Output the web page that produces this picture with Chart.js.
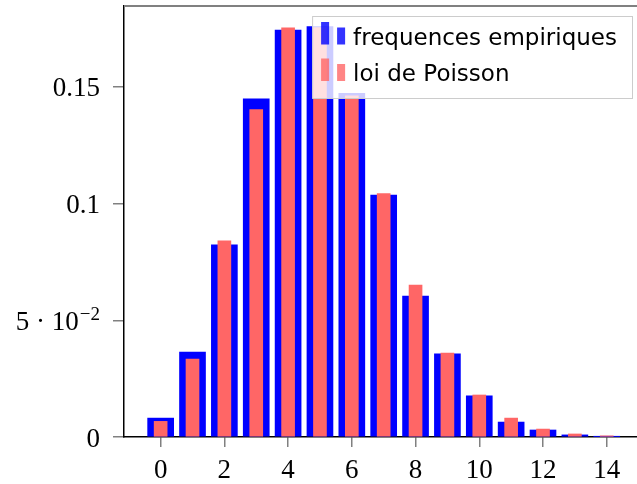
<!DOCTYPE html>
<html>
<head>
<meta charset="utf-8">
<script src="https://cdn.jsdelivr.net/npm/chart.js@4/dist/chart.umd.min.js"></script>
<style>
  html, body { margin: 0; padding: 0; background: #fff; }
  #wrap { width: 637px; height: 484px; }
</style>
</head>
<body>
<div id="wrap"><canvas id="poisson"></canvas></div>
<script>
// valeurs observees k = 0..14
var values = [0, 1, 2, 3, 4, 5, 6, 7, 8, 9, 10, 11, 12, 13, 14]
var empirical = [0.0081, 0.0364, 0.0823, 0.1449, 0.1744, 0.1759, 0.1473, 0.1037, 0.0604, 0.0356, 0.0176, 0.0064, 0.0030, 0.0009, 0.0002]
var poisson = [0.0067, 0.0334, 0.0841, 0.1403, 0.1753, 0.1755, 0.1462, 0.1043, 0.0651, 0.0360, 0.0180, 0.0081, 0.0034, 0.0013, 0.0005]
var xTicks = [0, 2, 4, 6, 8, 10, 12, 14]
var yTicks = [0, 0.05, 0.1, 0.15]
// [mantisse, exposant]
var yTickLabels = [['0', ''], ['5 · 10', '−2'], ['0.1', ''], ['0.15', '']]

var serif = 'Liberation Serif'
var tickFont = { family: serif, size: 27 }

function points(ys) {
	var p = []
	for (var i = 0; i < values.length; i++) {
		p.push({ x: values[i], y: ys[i] })
	}
	return p
}

function fixTicks(list) {
	return function(scale) {
		scale.ticks = list.map(function(v) { return { value: v } })
	}
}

function fixSize(w, h) {
	return function(scale) {
		if (w !== null) scale.width = w
		if (h !== null) scale.height = h
		scale.paddingLeft = scale.paddingRight = scale.paddingTop = scale.paddingBottom = 0
	}
}

// cadre du haut
var frame = {
	id: 'frame',
	afterDraw: function(chart) {
		var a = chart.chartArea, ctx = chart.ctx
		ctx.save()
		ctx.strokeStyle = '#808080'
		ctx.lineWidth = 2
		ctx.beginPath()
		ctx.moveTo(a.left, a.top)
		ctx.lineTo(a.right, a.top)
		ctx.stroke()
		ctx.restore()
	}
}

// etiquettes de l'axe y, avec exposant en position haute
var yLabels = {
	id: 'yLabels',
	afterDraw: function(chart) {
		var s = chart.scales.y, ctx = chart.ctx
		var right = s.right - 24
		ctx.save()
		ctx.fillStyle = '#000'
		ctx.textBaseline = 'alphabetic'
		ctx.textAlign = 'right'
		yTicks.forEach(function(v, i) {
			var base = s.getPixelForValue(v) + 9.5
			var lab = yTickLabels[i]
			var x = right
			if (lab[1]) {
				ctx.font = '19px "' + serif + '"'
				ctx.fillText(lab[1], x, base - 10)
				x -= ctx.measureText(lab[1]).width + 1
			}
			ctx.font = '27px "' + serif + '"'
			ctx.fillText(lab[0], x, base)
		})
		ctx.restore()
	}
}

// legende style pgfplots : fond blanc translucide, deux petites barres par entree
var legendBox = {
	id: 'legendBox',
	afterDraw: function(chart) {
		var a = chart.chartArea, ctx = chart.ctx
		var sets = chart.data.datasets
		ctx.save()
		ctx.font = '23px "DejaVu Sans"'
		var tw = 0
		sets.forEach(function(d) { tw = Math.max(tw, ctx.measureText(d.label).width) })
		var w = 41 + tw + 15, h = 82
		var x = a.right - 5 - w, y = a.top + 10
		ctx.fillStyle = 'rgba(255,255,255,0.8)'
		ctx.fillRect(x, y, w, h)
		ctx.strokeStyle = '#cccccc'
		ctx.lineWidth = 1
		ctx.strokeRect(x + 0.5, y + 0.5, w, h)
		sets.forEach(function(d, i) {
			var base = y + 28.5 + i * 36.5
			ctx.globalAlpha = 0.8
			ctx.fillStyle = d.backgroundColor
			ctx.fillRect(x + 9, base - 22.5, 8, 22.5)
			ctx.fillRect(x + 25, base - 17, 8, 17)
			ctx.globalAlpha = 1
			ctx.fillStyle = '#000'
			ctx.textBaseline = 'alphabetic'
			ctx.fillText(d.label, x + 41, base)
		})
		ctx.restore()
	}
}

var ctx = document.getElementById('poisson').getContext('2d')
var chart = new Chart(ctx, {
	type: 'bar',
	data: {
		datasets: [{
			label: 'frequences empiriques',
			data: points(empirical),
			backgroundColor: '#0000ff',
			barThickness: 26,
			grouped: false,
			order: 1
		}, {
			label: 'loi de Poisson',
			data: points(poisson),
			backgroundColor: '#ff6666',
			barThickness: 13,
			grouped: false,
			order: 0
		}]
	},
	options: {
		responsive: true,
		maintainAspectRatio: false,
		animation: false,
		layout: { padding: { top: 6, right: 0, left: 0, bottom: 0 } },
		plugins: {
			legend: { display: false },
			tooltip: { enabled: false }
		},
		scales: {
			x: {
				type: 'linear',
				min: -1.15,
				max: 14.95,
				offset: false,
				z: 1,
				afterBuildTicks: fixTicks(xTicks),
				afterFit: fixSize(null, 47),
				ticks: {
					font: tickFont,
					color: '#000',
					padding: 8,
					maxRotation: 0,
					autoSkip: false,
					callback: function(v) { return String(v) }
				},
				grid: { offset: false, drawOnChartArea: false, tickLength: 10, color: '#808080', lineWidth: 1.5 },
				border: { color: '#000', width: 1.5 }
			},
			y: {
				min: 0,
				max: 0.1847,
				z: 1,
				afterBuildTicks: fixTicks(yTicks),
				afterFit: fixSize(124, null),
				ticks: { display: false },
				grid: { drawOnChartArea: false, tickLength: 11, color: '#808080', lineWidth: 1.5 },
				border: { color: '#000', width: 1.5 }
			}
		}
	},
	plugins: [frame, yLabels, legendBox]
})
</script>
</body>
</html>
